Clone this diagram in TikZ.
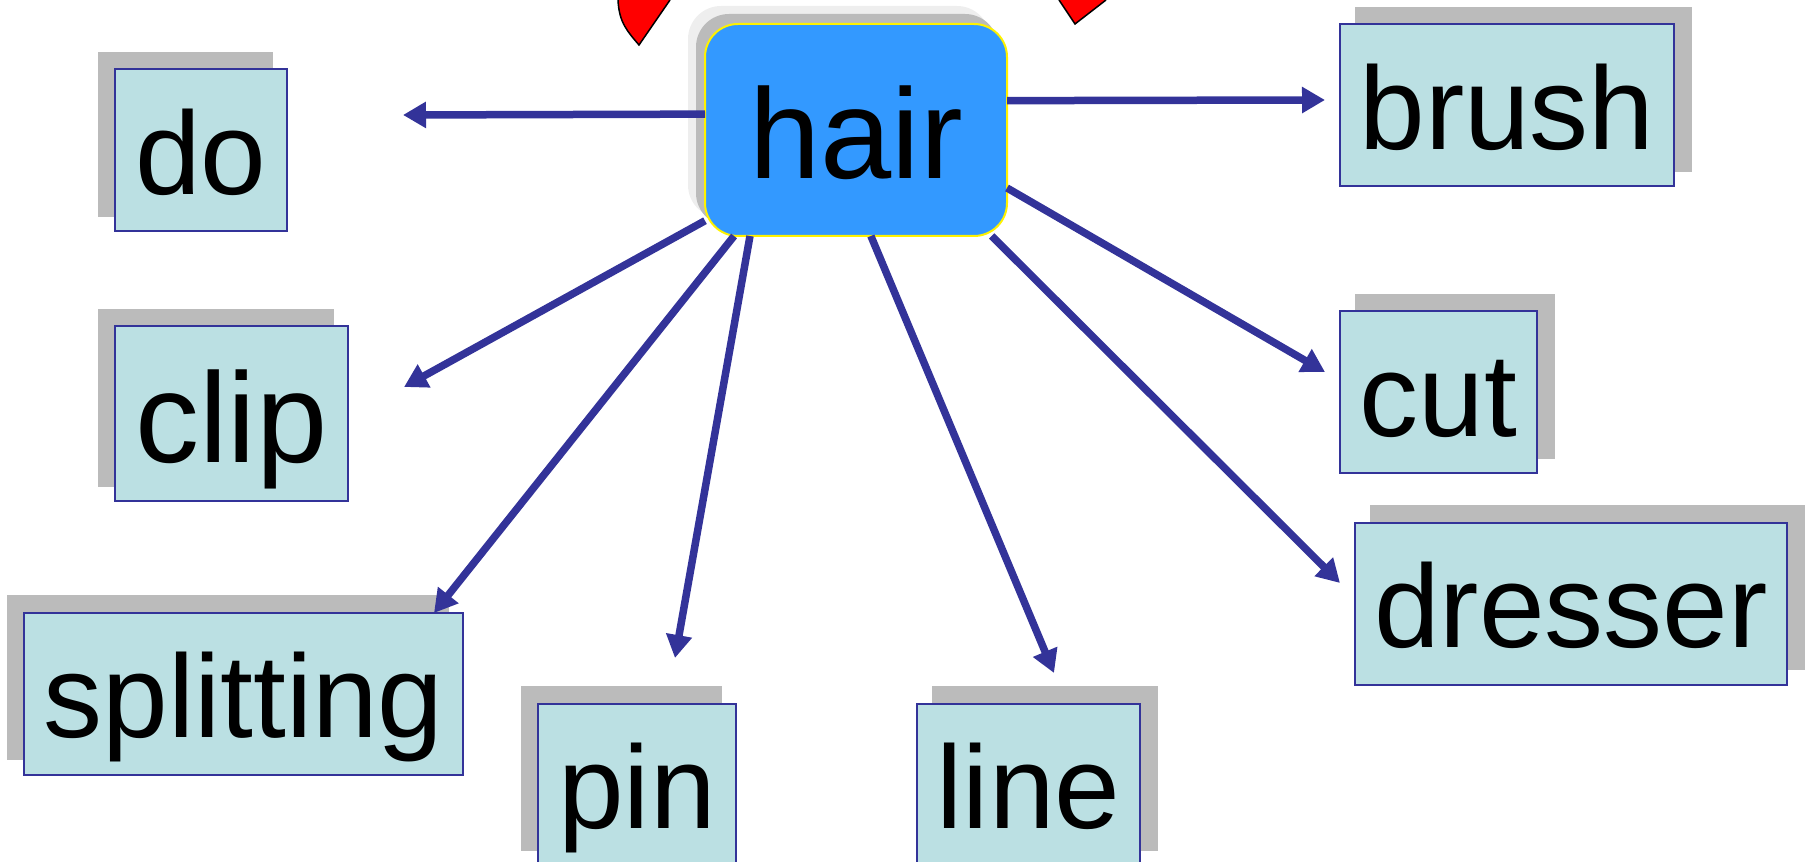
\documentclass[tikz,border=0pt]{standalone}
\usepackage{fontspec}
\setmainfont{Liberation Sans}
\usetikzlibrary{positioning}
\usetikzlibrary{arrows.meta}
\usetikzlibrary{shadows}
\definecolor{linkblue}{HTML}{333399}
\definecolor{wordfill}{HTML}{BBE0E3}
\definecolor{hairfill}{HTML}{3399FF}
\definecolor{shadedark}{HTML}{BBBBBB}
\definecolor{shadelight}{HTML}{EEEEEE}
\tikzset{word/.style={draw=linkblue,fill=wordfill,line width=2pt,inner sep=0pt,outer sep=0pt,minimum height=162pt,text height=100pt,text depth=12pt,font=\fontsize{118}{118}\selectfont}}
\tikzset{shadeleft/.style={general shadow={shadow xshift=-16pt,shadow yshift=16pt,fill=shadedark,draw=shadedark,line width=3pt}}}
\tikzset{shaderight/.style={general shadow={shadow xshift=16pt,shadow yshift=16pt,fill=shadedark,draw=shadedark,line width=3pt}}}
\tikzset{hairbox/.style={draw=yellow,fill=hairfill,line width=2pt,rounded corners=33pt,inner sep=0pt,outer sep=0pt,minimum width=302pt,minimum height=212pt,text height=102pt,text depth=4pt,font=\fontsize{128}{128}\selectfont,general shadow={shadow xshift=-17pt,shadow yshift=18pt,fill=shadelight},general shadow={shadow xshift=-9pt,shadow yshift=10pt,fill=shadedark}}}
\tikzset{link/.style={->,draw=linkblue,line width=7.5pt}}
\tikzset{petal/.style={draw=black,fill=red,line width=1.5pt}}
\tikzset{>={Triangle[length=23pt,width=25pt]}}

\begin{document}
\begin{tikzpicture}[x=1pt, y=1pt, node distance = 100pt and 100pt, on grid]
        \path[use as bounding box] (0,1.5) rectangle (1808,863);
        \clip (0,-5) rectangle (1808,863);
        \draw[petal] (618,863) .. controls (619,840) and (628,831) .. (639,818) -- (670,863);
        \draw[petal] (1059,863) -- (1075,839) -- (1106,863);
        \node[hairbox] (hair) at (856,733) {hair};
        \node[word, shadeleft, minimum width=172pt, below left=20.5pt and 655pt of hair] (do) {do};
        \node[word, shadeleft, minimum width=233pt, minimum height=175pt, text height=104pt, text depth=6pt, font=\fontsize{128}{128}\selectfont, below left=284pt and 624.5pt of hair] (clip) {clip};
        \node[word, shadeleft, minimum width=439pt, below left=564pt and 612.5pt of hair] (splitting) {splitting};
        \node[word, shadeleft, minimum width=198pt, below left=655pt and 219pt of hair] (pin) {pin};
        \node[word, shaderight, minimum width=223pt, below right=655pt and 172.5pt of hair] (line) {line};
        \node[word, shaderight, minimum width=334pt, above right=24.5pt and 651pt of hair] (brush) {brush};
        \node[word, shaderight, minimum width=197pt, below right=262.5pt and 582.5pt of hair] (cut) {cut};
        \node[word, shaderight, minimum width=432pt, below right=474pt and 715pt of hair] (dresser) {dresser};
        \coordinate (dotip) at (403,748);
        \coordinate (cliptip) at (404,476);
        \coordinate (splittingtip) at (434,250);
        \coordinate (pintip) at (675,205);
        \coordinate (linetip) at (1054,190);
        \coordinate (brushtip) at (1325,763);
        \coordinate (cuttip) at (1325,491);
        \coordinate (dressertip) at (1340,280);
        \draw[link] (hair.174.36) -- (dotip);
        \draw[link] (hair.211) -- (cliptip);
        \draw[link] (hair.221.45) -- (splittingtip);
        \draw[link] (hair.225.55) -- (pintip);
        \draw[link] (hair.278.05) -- (linetip);
        \draw[link] (hair.11.16) -- (brushtip);
        \draw[link] (hair.-21.2) -- (cuttip);
        \draw[link] (hair.-38.8) -- (dressertip);
    \end{tikzpicture}
\end{document}
